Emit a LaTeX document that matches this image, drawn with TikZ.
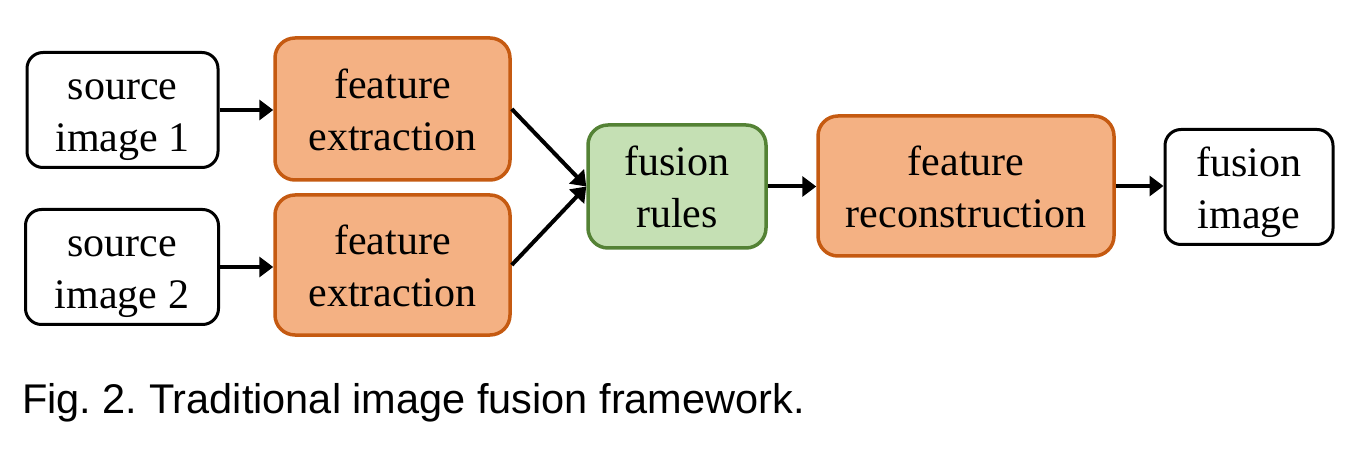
\documentclass[tikz,border=0pt]{standalone}
\usepackage{fontspec}
\setmainfont{Liberation Serif}
\newfontfamily\capfont{Liberation Sans}
\usetikzlibrary{arrows.meta}
\definecolor{orfill}{HTML}{F4B183}
\definecolor{ordraw}{HTML}{C55A11}
\definecolor{grfill}{HTML}{C5E0B4}
\definecolor{grdraw}{HTML}{548235}
\newcommand\twolines[2]{\rule{0pt}{47pt}#1\\\rule[-16pt]{0pt}{16pt}#2}
\frenchspacing
\begin{document}
\begin{tikzpicture}[x=1pt,y=-1pt,
  box/.style={rounded corners=16pt, line width=3pt, inner sep=0pt, align=center,
    font=\fontsize{42}{52}\selectfont},
  plainbox/.style={box, draw=black, fill=white},
  orbox/.style={box, draw=ordraw, fill=orfill, line width=3.5pt, rounded corners=20pt},
  grbox/.style={box, draw=grdraw, fill=grfill, line width=3.5pt, rounded corners=20pt},
  arr/.style={line width=4pt, -{Triangle[length=14pt,width=20pt]}},
  ln/.style={line width=4pt}]
\useasboundingbox (0,0) rectangle (1345,473);
\node[plainbox, minimum width=191pt, minimum height=110pt] (s1) at (122.5,110) {\twolines{source}{image 1}};
\node[plainbox, minimum width=193pt, minimum height=110pt] (s2) at (122,267) {\twolines{source}{image 2}};
\node[orbox, minimum width=235pt, minimum height=142pt] (f1) at (392.5,109) {\twolines{feature}{extraction}};
\node[orbox, minimum width=235pt, minimum height=140pt] (f2) at (392.5,265) {\twolines{feature}{extraction}};
\node[grbox, minimum width=178pt, minimum height=123pt] (fr) at (677,186.5) {\twolines{fusion}{rules}};
\node[orbox, minimum width=296pt, minimum height=140pt] (rc) at (966,186) {\twolines{feature}{reconstruction}};
\node[plainbox, minimum width=168pt, minimum height=110pt] (fi) at (1249,187) {\twolines{fusion}{image}};
\draw[arr] (s1.east) -- (f1.west |- s1.east);
\draw[arr] (s2.east) -- (f2.west |- s2.east);
\draw[arr] (f1.east) -- (fr.west);
\draw[arr] (f2.east) -- (fr.west);
\draw[arr] (fr.east) -- (rc.west |- fr.east);
\draw[arr] (rc.east) -- (fi.west |- rc.east);
\node[anchor=base west, inner sep=0pt, font=\capfont\fontsize{41.5}{50}\selectfont] (cap) at (22,413) {Fig. 2. Traditional image fusion framework.};
\end{tikzpicture}
\end{document}
